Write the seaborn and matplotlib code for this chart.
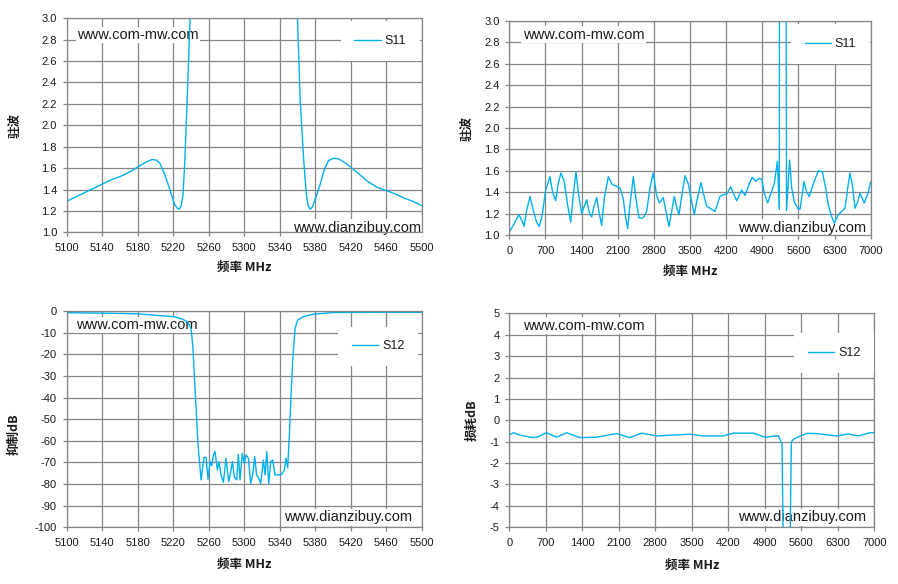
import matplotlib
matplotlib.use('Agg')
import matplotlib.pyplot as plt
import seaborn as sns
import pandas as pd

sns.set_style('white')
plt.rcParams['font.family'] = ['Liberation Sans', 'DejaVu Sans']

# S11 驻波, 5100-5500 MHz
s11_nb_f = [5100, 5110, 5120, 5130, 5140, 5150, 5160, 5170, 5180, 5188, 5196, 5201,
            5205, 5210, 5215, 5220, 5222, 5225, 5227, 5229, 5231, 5233, 5236, 5239,
            5242, 5250, 5300, 5350, 5357, 5360, 5363, 5367, 5370, 5372, 5374.5, 5377,
            5380, 5385, 5390, 5395, 5400, 5405, 5410, 5420, 5430, 5440, 5450, 5460,
            5470, 5480, 5490, 5500]
s11_nb_v = [1.29, 1.33, 1.37, 1.41, 1.45, 1.49, 1.52, 1.56, 1.61, 1.65, 1.68, 1.675,
            1.645, 1.55, 1.43, 1.30, 1.255, 1.22, 1.22, 1.25, 1.35, 1.65, 2.30, 3.00,
            4.5, 8.0, 15.0, 8.0, 4.5, 3.00, 2.25, 1.68, 1.36, 1.25, 1.215, 1.24,
            1.31, 1.43, 1.58, 1.67, 1.69, 1.69, 1.67, 1.61, 1.54, 1.47, 1.42, 1.39,
            1.36, 1.32, 1.29, 1.25]

# S11 驻波, 0-7000 MHz
s11_wb_f = [0, 78, 188, 240, 285, 337, 401, 465, 530, 581, 639, 705, 788, 840, 898, 949,
            1001, 1066, 1131, 1189, 1240, 1292, 1337, 1402, 1447, 1499, 1544, 1596, 1647,
            1693, 1743, 1790, 1840, 1918, 1995, 2061, 2144, 2208, 2255, 2293, 2338, 2402,
            2454, 2512, 2596, 2661, 2725, 2789, 2855, 2906, 2983, 3035, 3093, 3146, 3196,
            3242, 3287, 3339, 3403, 3467, 3533, 3584, 3630, 3713, 3758, 3823, 3920, 3984,
            4081, 4159, 4211, 4288, 4404, 4501, 4566, 4649, 4707, 4773, 4837, 4889, 4940,
            5005, 5069, 5133, 5193, 5230, 5262, 5300, 5370, 5430, 5470, 5520, 5586, 5631,
            5709, 5760, 5811, 5889, 5986, 6063, 6128, 6179, 6245, 6295, 6373, 6439, 6502,
            6555, 6600, 6644, 6697, 6749, 6793, 6838, 6877, 6954, 7000]
s11_wb_v = [1.03, 1.09, 1.19, 1.14, 1.08, 1.23, 1.36, 1.23, 1.12, 1.08, 1.19, 1.42, 1.545,
            1.40, 1.32, 1.48, 1.58, 1.50, 1.28, 1.12, 1.37, 1.59, 1.40, 1.20, 1.26, 1.33,
            1.22, 1.17, 1.28, 1.35, 1.20, 1.09, 1.34, 1.545, 1.47, 1.46, 1.44, 1.34, 1.16,
            1.06, 1.28, 1.545, 1.34, 1.16, 1.16, 1.22, 1.44, 1.58, 1.37, 1.30, 1.35, 1.22,
            1.08, 1.22, 1.36, 1.26, 1.19, 1.36, 1.555, 1.48, 1.31, 1.19, 1.31, 1.49, 1.39,
            1.27, 1.24, 1.22, 1.36, 1.38, 1.38, 1.45, 1.32, 1.42, 1.37, 1.48, 1.54, 1.50,
            1.53, 1.52, 1.39, 1.30, 1.39, 1.48, 1.69, 1.24, 20.0, 20.0, 1.23, 1.70, 1.44,
            1.31, 1.25, 1.24, 1.50, 1.40, 1.36, 1.48, 1.60, 1.59, 1.44, 1.28, 1.17, 1.11,
            1.19, 1.22, 1.25, 1.44, 1.58, 1.47, 1.25, 1.31, 1.39, 1.34, 1.30, 1.40, 1.50]

# S12 抑制, 5100-5500 MHz
s12_nb_f = [5100, 5140, 5180, 5200, 5220, 5230, 5236, 5240, 5242, 5245, 5248, 5251.4,
            5254.7, 5257, 5259.2, 5261.5, 5263.4, 5265.3, 5267.1, 5269.8, 5271.6, 5273.9,
            5276.5, 5279.5, 5282.5, 5284.8, 5286.7, 5288.9, 5291.5, 5293.4, 5295.3, 5297.9,
            5300.2, 5302.1, 5304.7, 5307.3, 5309.6, 5311.8, 5314, 5316.3, 5318.6, 5321.6,
            5323.5, 5325.4, 5327.6, 5329.9, 5332.1, 5334.7, 5338.5, 5342.3, 5345.3, 5347.1,
            5349, 5350.9, 5352.8, 5354.6, 5357.3, 5360.3, 5366.7, 5377.9, 5400.5, 5450, 5500]
s12_nb_db = [-0.8, -1.0, -1.3, -2.0, -2.6, -3.7, -5.0, -8.0, -15.7, -39.0, -62.0, -78.1,
             -67.8, -67.6, -77.8, -69.6, -71.5, -66.6, -65.0, -73.5, -69.6, -75.8,
             -79.2, -68.1, -78.9, -74.3, -69.6, -76.6, -78.1, -66.3, -78.1, -65.8,
             -70.4, -66.6, -68.1, -79.7, -75.5, -67.3, -75.8, -77.3, -79.7, -68.9,
             -75.8, -65.0, -79.7, -69.6, -68.9, -75.8, -75.8, -75.5, -73.5, -68.1,
             -72.4, -57.3, -38.8, -23.4, -8.0, -4.2, -2.6, -1.5, -0.7, -0.6, -0.6]

# S12 损耗, 0-7000 MHz
s12_wb_f = [0, 77, 205, 460, 556, 716, 908, 1100, 1355, 1675, 2058, 2314, 2538, 2826,
            3465, 3721, 4104, 4296, 4680, 4903, 5159, 5230, 5255, 5300, 5383, 5410, 5446,
            5510, 5702, 5894, 6278, 6501, 6693, 6917, 7000]
s12_wb_db = [-0.69, -0.58, -0.69, -0.81, -0.76, -0.58, -0.79, -0.58, -0.81, -0.79, -0.62,
             -0.81, -0.60, -0.73, -0.65, -0.73, -0.73, -0.60, -0.60, -0.79, -0.72, -1.1,
             -6.0, -60.0, -6.0, -1.0, -0.9, -0.81, -0.61, -0.62, -0.73, -0.64, -0.73,
             -0.58, -0.58]

line_c = '#00B0F0'
grid_c = '#868686'
txt_c = '#1a1a1a'
cjk = ['Noto Sans CJK SC', 'DejaVu Sans']

fig = plt.figure(figsize=(8.98, 5.84), dpi=100)
ax1 = fig.add_axes([0.0743, 0.6022, 0.3953, 0.3665])
ax2 = fig.add_axes([0.5671, 0.5976, 0.4025, 0.3664])
ax3 = fig.add_axes([0.0743, 0.0971, 0.3953, 0.3704])
ax4 = fig.add_axes([0.5671, 0.0971, 0.4065, 0.3664])

panels = [
    (ax1, s11_nb_f, s11_nb_v, 'S11', '驻波', (5100, 5500, 40), (1.0, 3.0, 0.2), '%.1f',
     (-0.126, -0.134, 0.5), (0.883, 0.893), (0.029, 0.922), (0.6375, 0.0215)),
    (ax2, s11_wb_f, s11_wb_v, 'S11', '驻波', (0, 7000, 700), (1.0, 3.0, 0.2), '%.1f',
     (-0.098, -0.14, 0.5), (0.889, 0.893), (0.037, 0.935), (0.633, 0.034)),
    (ax3, s12_nb_f, s12_nb_db, 'S12', '抑制dB', (5100, 5500, 40), (-100, 0, 10), '%d',
     (-0.129, -0.14, 0.429), (0.878, 0.836), (0.026, 0.935), (0.612, 0.046)),
    (ax4, s12_wb_f, s12_wb_db, 'S12', '损耗dB', (0, 7000, 700), (-5, 5, 1), '%d',
     (-0.083, -0.148, 0.5), (0.89, 0.814), (0.037, 0.942), (0.627, 0.047)),
]

for ax, fx, fy, name, ylab, xt, yt, yfmt, labxy, legxy, wm1, wm2 in panels:
    df = pd.DataFrame({'f': fx, 'v': fy})
    sns.lineplot(data=df, x='f', y='v', ax=ax, color=line_c, lw=1.0, label=name)

    ax.set_xlim(xt[0], xt[1])
    ax.set_ylim(yt[0], yt[1])
    nx = int(round((xt[1] - xt[0]) / xt[2]))
    ny = int(round((yt[1] - yt[0]) / yt[2]))
    ax.set_xticks([xt[0] + i * xt[2] for i in range(nx + 1)])
    yticks = [yt[0] + i * yt[2] for i in range(ny + 1)]
    ax.set_yticks(yticks)
    ax.set_yticklabels([yfmt % v for v in yticks])

    ax.grid(True, color=grid_c, lw=0.9)
    for sp in ax.spines.values():
        sp.set_visible(True)
        sp.set_color(grid_c)
        sp.set_linewidth(0.9)
    ax.tick_params(axis='both', direction='out', length=3, width=0.9, color=grid_c,
                   labelsize=8, labelcolor=txt_c)
    ax.tick_params(axis='y', pad=4, left=True)
    ax.tick_params(axis='x', pad=5, bottom=True)

    ax.set_xlabel('频率 MHz', fontsize=9, fontweight='bold', family=cjk, color=txt_c)
    ax.set_ylabel(ylab, fontsize=9, fontweight='bold', family=cjk, color=txt_c)
    ax.xaxis.set_label_coords(0.5, labxy[1])
    ax.yaxis.set_label_coords(labxy[0], labxy[2])

    leg = ax.legend(loc='center', bbox_to_anchor=legxy, frameon=True, facecolor='white',
                    edgecolor='none', framealpha=1, fancybox=False, fontsize=9,
                    handlelength=2.1, handletextpad=0.3, borderpad=1.1)
    for t in leg.get_texts():
        t.set_color(txt_c)

    for (px, py), s in [(wm1, 'www.com-mw.com'), (wm2, 'www.dianzibuy.com')]:
        ax.text(px, py, s, transform=ax.transAxes, fontsize=10.5, color=txt_c,
                ha='left', va='center', zorder=1.5,
                bbox=dict(fc='white', ec='none', pad=1))

fig.savefig('out.png', dpi=100)
